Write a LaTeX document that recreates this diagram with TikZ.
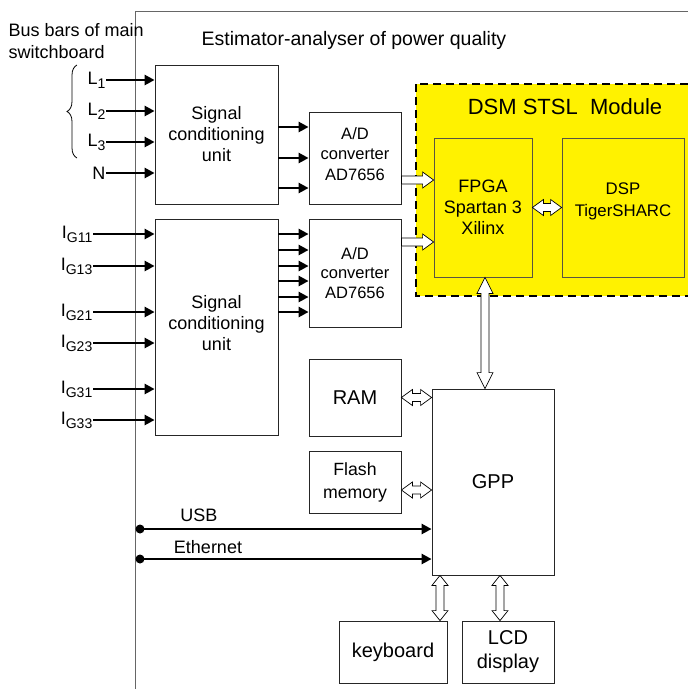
\documentclass[tikz,border=0pt]{standalone}
\usepackage{fontspec}
\setmainfont{Liberation Sans}
\usetikzlibrary{calc,arrows.meta,decorations.pathreplacing}
\tikzset{
  box/.style={draw=black!85, line width=0.8pt, inner sep=0pt, align=center, font=\fontsize{18}{21}\selectfont},
  ybox/.style={box, fill=yellow, draw=black!75!yellow},
  arr/.style={line width=2.8pt, -{Triangle[length=10pt,width=10pt]}},
  hollow/.style={draw=black, fill=white, line width=0.7pt, line join=miter},
  frame/.style={draw=black!60, line width=0.9pt},
  lbl/.style={inner sep=0.5pt, font=\fontsize{18}{21}\selectfont},
}
\newcommand{\sub}[1]{\raisebox{-4pt}{\fontsize{14}{14}\selectfont #1}}
\newcommand{\harrR}[2]{\draw[hollow] let \p1=#1, \p2=#2 in
  (\x1,\y1+4pt) -- (\x2-11pt,\y1+4pt) -- (\x2-11pt,\y1+8pt) -- (\x2,\y1)
  -- (\x2-11pt,\y1-8pt) -- (\x2-11pt,\y1-4pt) -- (\x1,\y1-4pt) -- cycle;}
\newcommand{\harrD}[3]{\draw[hollow] let \p1=#1, \p2=#2 in
  (\x1,\y1) -- (\x1+#3,\y1+8pt) -- (\x1+#3,\y1+4pt) -- (\x2-#3,\y1+4pt)
  -- (\x2-#3,\y1+8pt) -- (\x2,\y1) -- (\x2-#3,\y1-8pt) -- (\x2-#3,\y1-4pt)
  -- (\x1+#3,\y1-4pt) -- (\x1+#3,\y1-8pt) -- cycle;}
\newcommand{\varrD}[3]{\draw[hollow] let \p1=#1, \p2=#2 in
  (\x1,\y1) -- (\x1+8pt,\y1-#3) -- (\x1+4pt,\y1-#3) -- (\x1+4pt,\y2+#3)
  -- (\x1+8pt,\y2+#3) -- (\x1,\y2) -- (\x1-8pt,\y2+#3) -- (\x1-4pt,\y2+#3)
  -- (\x1-4pt,\y1-#3) -- (\x1-8pt,\y1-#3) -- cycle;}
\begin{document}
\begin{tikzpicture}[x=1pt,y=-1pt]
\useasboundingbox (0,0) rectangle (688,689);
% frame
\coordinate (fa) at (135,689);
\coordinate (fb) at (135,11);
\coordinate (fc) at (688,11);
\draw[frame] (fa) -- (fb) -- (fc);
% texts
\node[lbl, anchor=west, align=left, font=\fontsize{18}{22}\selectfont] (bus) at (8,41) {Bus bars of main\\switchboard};
\node[lbl, font=\fontsize{19.5}{22}\selectfont] (title) at (354,40) {Estimator-analyser of power quality};
% DSM module
\node[fill=yellow, minimum width=272pt, minimum height=212pt, inner sep=0pt] (dsm) at (552,190) {};
\draw[line width=2pt, dash pattern=on 8pt off 5pt] (dsm.north east) -- (dsm.north west) -- (dsm.south west) -- (dsm.south east);
\node[lbl, font=\fontsize{22}{26}\selectfont] (dsmt) at (565,107) {DSM STSL\ \ Module};
% boxes
\node[box, minimum width=123pt, minimum height=139pt] (scu1) at (216.5,134.5) {Signal\\conditioning\\unit};
\node[box, minimum width=123pt, minimum height=216pt] (scu2) at (216.5,327) {};
\node[lbl, align=center] (scu2t) at (216.5,323) {Signal\\conditioning\\unit};
\node[box, minimum width=92pt, minimum height=92pt, font=\fontsize{16.5}{20}\selectfont] (ad1) at (355,158) {};
\node[lbl, align=center, font=\fontsize{16.5}{20.5}\selectfont] (ad1t) at (355,154) {A/D\\converter\\AD7656};
\node[box, minimum width=92pt, minimum height=108pt, font=\fontsize{16.5}{19.5}\selectfont] (ad2) at (355,273) {A/D\\converter\\AD7656};
\node[ybox, minimum width=98pt, minimum height=139pt] (fpga) at (483,207.5) {FPGA\\Spartan 3\\Xilinx};
\node[ybox, minimum width=122pt, minimum height=139pt] (dsp) at (623,207.5) {};
\node[lbl, align=center, font=\fontsize{16.8}{22}\selectfont] (dspt) at (623,201) {DSP\\TigerSHARC};
\node[box, minimum width=122pt, minimum height=186pt, font=\fontsize{20}{23}\selectfont] (gpp) at (493,482) {GPP};
\node[box, minimum width=92pt, minimum height=77pt, font=\fontsize{20}{23}\selectfont] (ram) at (355,397.5) {RAM};
\node[box, minimum width=92pt, minimum height=62pt, font=\fontsize{17.7}{23}\selectfont] (flash) at (355,482) {Flash\\memory};
\node[box, minimum width=108pt, minimum height=62pt, font=\fontsize{20}{23}\selectfont] (kb) at (393,652) {keyboard};
\node[box, minimum width=92pt, minimum height=62pt, font=\fontsize{20}{24}\selectfont] (lcd) at (508,652) {LCD\\display};
% brace
\draw[line width=0.8pt, decorate, decoration={brace, amplitude=10pt}] (77,158) -- (77,65);
% L inputs
\node[lbl, anchor=east] (l1) at (106,80) {L\sub{1}};
\node[lbl, anchor=east] (l2) at (106,111) {L\sub{2}};
\node[lbl, anchor=east] (l3) at (106,142) {L\sub{3}};
\node[lbl, anchor=east] (n) at (106,173) {N};
\foreach \a in {l1,l2,l3,n} \draw[arr] (\a.east) -- (scu1.west |- \a.east);
% IG inputs
\node[lbl, anchor=east] (g11) at (93,234) {I\sub{G11}};
\node[lbl, anchor=east] (g13) at (93,266) {I\sub{G13}};
\node[lbl, anchor=east] (g21) at (93,312) {I\sub{G21}};
\node[lbl, anchor=east] (g23) at (93,343) {I\sub{G23}};
\node[lbl, anchor=east] (g31) at (93,389) {I\sub{G31}};
\node[lbl, anchor=east] (g33) at (93,420) {I\sub{G33}};
\foreach \a in {g11,g13,g21,g23,g31,g33} \draw[arr] (\a.east) -- (scu2.west |- \a.east);
% outputs of conditioning units
\foreach \y in {127,158,188} \draw[arr] (scu1.east |- 0,\y) -- (ad1.west |- 0,\y);
\foreach \y in {234,250,266,281,297,312} \draw[arr] (scu2.east |- 0,\y) -- (ad2.west |- 0,\y);
% hollow arrows
\harrR{([yshift=-22pt]ad1.east)}{(fpga.west)}
\harrR{([yshift=31pt]ad2.east)}{(fpga.west)}
\harrD{(fpga.east)}{(dsp.west)}{11pt}
\varrD{([xshift=2pt]fpga.south)}{(gpp.north)}{16pt}
\harrD{(ram.east)}{(gpp.west)}{11pt}
\harrD{([yshift=-8pt]flash.east)}{(gpp.west)}{11pt}
\varrD{([xshift=-53pt]gpp.south)}{(kb.north)}{10pt}
\varrD{([xshift=7pt]gpp.south)}{(lcd.north)}{10pt}
% USB / Ethernet
\coordinate (usb) at (140,529);
\coordinate (eth) at (140,559);
\draw[arr] (usb) -- (gpp.west |- usb);
\draw[arr] (eth) -- (gpp.west |- eth);
\fill (usb) circle (4.5pt);
\fill (eth) circle (4.5pt);
\node[lbl] (usbt) at (199,515) {USB};
\node[lbl] (etht) at (208,547) {Ethernet};
\end{tikzpicture}
\end{document}
